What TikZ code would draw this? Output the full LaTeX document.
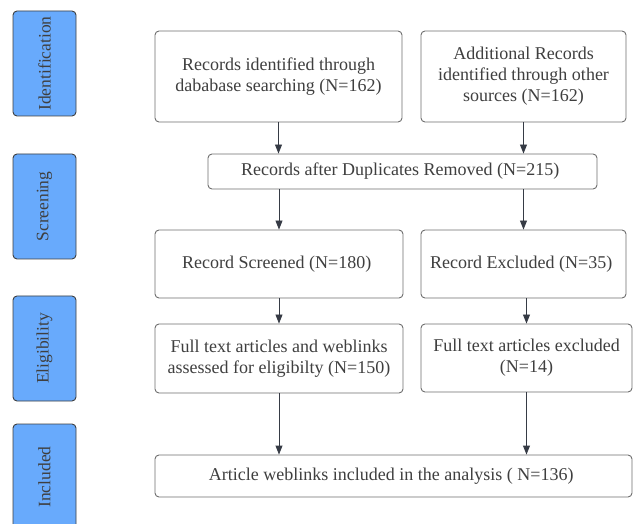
\documentclass[tikz,border=0pt]{standalone}
\usepackage{fontspec}
\setmainfont{Liberation Serif}
\usepackage{tikz}
\usetikzlibrary{arrows.meta, positioning, calc}
\definecolor{PhaseBlue}{HTML}{68AAFC}
\definecolor{BoxLine}{HTML}{6E6E6E}
\definecolor{InkGray}{HTML}{3F3F3F}
\definecolor{ArrowInk}{HTML}{363B45}
\tikzset{
    phasebox/.style={rectangle, rounded corners=4pt, fill=PhaseBlue, draw=InkGray,
        line width=0.9pt, minimum width=63pt, minimum height=105pt, inner sep=0pt},
    phaselabel/.style={rotate=90, text=InkGray, font=\fontsize{17.5}{20}\selectfont},
    flowbox/.style={rectangle, rounded corners=4pt, draw=BoxLine, line width=0.9pt,
        fill=white, text=InkGray, align=center, inner sep=0pt,
        font=\fontsize{18}{21}\selectfont},
    flowarrow/.style={-{Triangle[length=9pt,width=7pt]}, line width=0.9pt, ArrowInk}
}

\begin{document}
\begin{tikzpicture}[x=1pt, y=-1pt]
    \useasboundingbox (0,0) rectangle (633,524);
    \clip (0,0) rectangle (633,524);

    % Phase labels on the left
    \node[phasebox] (ident) at (44.5,63.5) {};
    \node[phaselabel] at (ident) {Identification};
    \node[phasebox] (screen) at (44.5,206.5) {};
    \node[phaselabel] at (screen) {Screening};
    \node[phasebox] (elig) at (44.5,348.5) {};
    \node[phaselabel] at (elig) {Eligibility};
    \node[phasebox, minimum height=110pt] (incl) at (44.5,479) {};
    \node[phaselabel] at (44.5,477) {Included};

    % Flow boxes
    \node[flowbox, minimum width=247pt, minimum height=91pt] (dbsearch) at (278.5,76.5) {
        Records identified through\\dababase searching (N=162)
    };
    \node[flowbox, minimum width=205pt, minimum height=91pt] (othersrc) at (523.5,76.5) {
        Additional Records\\identified through other\\sources (N=162)
    };
    \node[flowbox, minimum width=389pt, minimum height=35pt] (dedup) at (402.5,171.5) {
        Records after Duplicates Removed (N=215)
    };
    \node[flowbox, minimum width=248pt, minimum height=68pt] (screened) at (279,264) {
        Record Screened (N=180)
    };
    \node[flowbox, minimum width=205pt, minimum height=68pt] (excluded) at (523.5,264) {
        Record Excluded (N=35)
    };
    \node[flowbox, minimum width=248pt, minimum height=69pt] (fulltext) at (279,358.5) {
        Full text articles and weblinks\\assessed for eligibilty (N=150)
    };
    \node[flowbox, minimum width=211pt, minimum height=68pt] (ftexcl) at (526.5,358) {
        Full text articles excluded\\(N=14)
    };
    \node[flowbox, minimum width=477pt, minimum height=42pt] (included) at (393.5,476) {
        Article weblinks included in the analysis ( N=136)
    };

    % Arrows
    \draw[flowarrow] (dbsearch.south) -- (dbsearch.south |- dedup.north);
    \draw[flowarrow] (othersrc.south) -- (othersrc.south |- dedup.north);
    \draw[flowarrow] (dedup.south -| screened) -- (screened.north);
    \draw[flowarrow] (dedup.south -| excluded) -- (excluded.north);
    \draw[flowarrow] (screened.south) -- (fulltext.north);
    \draw[flowarrow] (excluded.south -| ftexcl) -- (ftexcl.north);
    \draw[flowarrow] (fulltext.south) -- (fulltext.south |- included.north);
    \draw[flowarrow] (ftexcl.south) -- (ftexcl.south |- included.north);
\end{tikzpicture}
\end{document}
